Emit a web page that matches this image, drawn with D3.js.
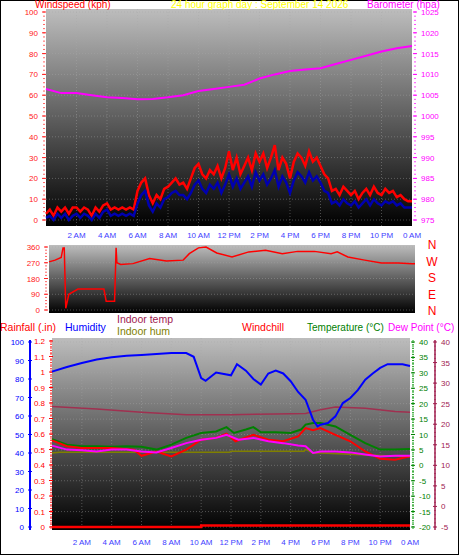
<!DOCTYPE html>
<html><head><meta charset="utf-8">
<script src="https://cdn.jsdelivr.net/npm/d3@7/dist/d3.min.js"></script>
<style>body{margin:0;background:#fff}svg{display:block;font-family:"Liberation Sans",Arial,sans-serif}</style>
</head><body><svg id="c" width="459" height="555"></svg>
<script>
const xTickLabels=["2 AM","4 AM","6 AM","8 AM","10 AM","12 PM","2 PM","4 PM","6 PM","8 PM","10 PM","0 AM"];
const xTickHours=[2,4,6,8,10,12,14,16,18,20,22,24];
// wind speed every 15 min
const gust=[3,5,2,6,4,6,3,6,6,4,6,5,2,6,4,7,8,5,6,5,6,5,6,5,14,18,20,12,8,12,10,15,16,18,20,17,18,15,20,25,27,22,20,24,22,26,20,25,33,24,30,22,26,30,24,32,28,32,25,30,36,24,30,27,20,28,32,30,26,33,28,30,26,22,20,14,15,12,16,14,12,14,10,13,15,12,16,13,12,15,13,14,11,12,10,9,9];
const avgWind=[1,2,0,3,1,3,0,2,3,1,3,2,0,3,1,4,5,2,3,2,3,2,3,2,8,12,14,7,4,8,6,10,11,13,14,12,12,10,13,17,19,15,13,17,15,18,13,17,22,16,20,15,18,21,16,23,19,22,17,20,24,16,21,18,13,19,23,21,18,23,19,21,18,14,13,8,9,7,10,8,7,9,6,8,10,7,10,8,7,9,8,9,7,8,6,6,6];
const baro=[1006.5,1005.5,1005.5,1005,1004.5,1004.3,1004,1004.1,1004.5,1005,1006,1006.5,1007,1007.5,1009,1010,1010.8,1011.2,1011.5,1012.5,1013.5,1014.5,1015.5,1016.3,1016.8];
const dirHours=[0,0.4,0.8,0.92,1.0,1.1,1.3,1.9,3.6,3.75,4.3,4.4,4.45,4.7,5.5,6.6,7.7,8.8,9.2,9.8,10.3,11,12,13.1,14.2,15.3,16.3,17.4,18.5,18.9,19.6,20.7,21.8,22.9,23.8,24];
const dirDeg=[275,285,300,355,355,10,90,120,120,50,50,355,270,260,265,294,280,285,322,355,360,326,303,332,341,322,335,335,322,332,303,285,269,269,265,265];
const humHours=[0,1,2,3,4,5,6,7,8,9,9.5,10,10.3,11,12,12.4,13,13.5,14,14.5,15,15.5,16,16.5,17,17.5,17.8,18,18.5,19,19.5,20,20.5,21,21.5,22,22.5,23,23.5,24];
const humidity=[84,86.5,88.6,90.5,91.7,92.6,93,93.5,94,94,92,80.5,79,83.5,82,88,84.5,80,77,83,84.5,83,78.8,73,68.8,58,54.4,55.3,56.2,59.8,67,69.7,74,79.6,83,86,88,88,88,87];
const tHours=[0,1,2,3,4,5,6,7,8,9,10,11,11.7,12.2,13,13.5,14,15,16,16.7,17,17.5,18,19,20,21,22,23,24];
const temperature=[8.5,6.7,6.2,6.2,6,6.2,6,5.1,6.7,8.9,10.5,11,12.4,10.5,11.6,12.4,10.7,10.7,10.5,11.6,13.2,13.7,13.7,12.6,9.9,7.2,5.1,5.1,5.3];
const wcHours=[0,1,2,4,5.5,6,7,8,9,10,11,11.7,12.3,13.5,14.5,15.5,16.5,17,17.5,18,19,20,21,22,23,24];
const windchill=[8.1,6.2,5.6,5.6,5.1,3.1,4.5,2.9,5.1,8.3,8.9,10.3,7.8,9.9,8.3,7.8,9.4,12.1,11.4,12.1,9.9,7.8,4.5,2.1,1.8,2.9];
const dpHours=[0,1,2,3,4,5,6,7,8,9,10,11,11.7,12.5,13.5,14.5,15.5,16.5,17,17.5,18,19,20,21,22,23,24];
const dewPoint=[6.4,5.1,4.9,4.5,5.1,5.1,4.5,4.2,5.6,7.2,8.3,8.9,9.9,8.3,8.9,7.8,7.2,6.4,6.2,4,4.5,4.5,4.2,3.5,2.9,3.1,3.1];
const inHours=[0,3,6,9,12,15,17,18,19,21,23,24];
const indoorTemp=[24.3,23.7,22.9,22.3,22.3,22.5,22.6,23.5,24.2,23.9,23.1,22.9];
const ihHours=[0,0.5,6,8,11.9,12,16.9,17,17.5,18,24];
const indoorHum=[40,40.4,40.4,40.4,40.4,41,41,42,40,40,38];
const rainHours=[0,9.9,10,24];
const rainfall=[0,0,0.01,0.01];

const svg=d3.select("#c");
svg.append("rect").attr("x",0.5).attr("y",0.5).attr("width",458).attr("height",554).attr("fill","#fff").attr("stroke","#000");
const defs=svg.append("defs");
const g=defs.append("linearGradient").attr("id","bg").attr("x1",0).attr("y1",0).attr("x2",0).attr("y2",1);
g.append("stop").attr("offset","0%").attr("stop-color","#bdbdbd");
g.append("stop").attr("offset","100%").attr("stop-color","#000");

function panel(x0,x1,y0,y1,nx,ny){
  svg.append("rect").attr("x",x0).attr("y",y0).attr("width",x1-x0).attr("height",y1-y0).attr("fill","url(#bg)");
  const gg=svg.append("g").attr("stroke","#aaa").attr("stroke-width",0.6).attr("stroke-dasharray","1,2").attr("opacity",0.7);
  nx.forEach(v=>gg.append("line").attr("x1",v).attr("x2",v).attr("y1",y0).attr("y2",y1));
  ny.forEach(v=>gg.append("line").attr("x1",x0).attr("x2",x1).attr("y1",v).attr("y2",v));
}
function axis(scale,x,ticks,color,side,fmt,minor){
  const a=svg.append("g").attr("font-size",8).attr("fill",color);
  ticks.forEach(t=>{
    const y=scale(t);
    a.append("text").attr("x",side<0?x-6:x+6).attr("y",y+3).attr("text-anchor",side<0?"end":"start").text(fmt?fmt(t):t);
    a.append("line").attr("x1",x-2).attr("x2",x+2).attr("y1",y).attr("y2",y).attr("stroke",color);
  });
  if(minor){const [a0,a1]=scale.domain();const st=(a1-a0)/minor;
    for(let v=a0;v<=a1+1e-9;v+=st)a.append("line").attr("x1",x-1).attr("x2",x+1).attr("y1",scale(v)).attr("y2",scale(v)).attr("stroke",color).attr("opacity",0.7);}
}
function xlabels(xs,y,color){
  const a=svg.append("g").attr("font-size",8).attr("fill",color).attr("text-anchor","middle");
  xTickHours.forEach((h,i)=>a.append("text").attr("x",xs(h)).attr("y",y).text(xTickLabels[i]));
}
function path(xs,ys,hours,vals,color,w,curve){
  svg.append("path").datum(vals.map((v,i)=>[hours[i],v])).attr("fill","none").attr("stroke",color).attr("stroke-width",w)
   .attr("d",d3.line().x(d=>xs(d[0])).y(d=>ys(d[1])).curve(curve||d3.curveLinear));
}
function txt(x,y,s,color,size,anchor){svg.append("text").attr("x",x).attr("y",y).attr("fill",color).attr("font-size",size||11).attr("text-anchor",anchor||"start").text(s);}

// ---- Top panel
const xT=d3.scaleLinear().domain([0,24]).range([46,412]);
const yW=d3.scaleLinear().domain([0,100]).range([220,12]);
const yB=d3.scaleLinear().domain([975,1025]).range([220,12]);
panel(46,412,9,226,d3.range(2,24,2).map(xT),d3.range(0,101,10).map(yW));
axis(yW,44,d3.range(0,101,10),"#ff2020",-1,null,50);
axis(yB,415,d3.range(975,1026,5),"#ff00ff",1,null,50);
const wh=gust.map((d,i)=>i*0.25);
path(xT,yW,wh,gust,"#ff0000",2.5);
path(xT,yW,wh,avgWind,"#0000b0",2.5);
path(xT,yB,d3.range(0,25),baro,"#ff00ff",2);
xlabels(xT,238,"#4040ff");
txt(35,8,"Windspeed (kph)","#ff0000",10);
txt(171,8,"24 hour graph day : September 14 2026","#ffff00",10);
txt(367,8,"Barometer (hpa)","#ff00ff",10);

// ---- Direction panel
const xD=d3.scaleLinear().domain([0,24]).range([49,415]);
const yD=d3.scaleLinear().domain([0,360]).range([310,247]);
panel(49,415,245,313,[],[0,90,180,270,360].map(yD));
axis(yD,46,[0,90,180,270,360],"#ff2020",-1,null,20);
path(xD,yD,dirHours,dirDeg,"#ff0000",1.5);
["N","W","S","E","N"].forEach((s,i)=>txt(432,249+i*16.5,s,"#ff0000",12,"middle"));

// ---- Bottom panel
const xB=d3.scaleLinear().domain([0,24]).range([52,410]);
const yH=d3.scaleLinear().domain([0,100]).range([527,342]);
const yR=d3.scaleLinear().domain([0,1.2]).range([527,341]);
const yG=d3.scaleLinear().domain([-20,40]).range([527,342]);
const yM=d3.scaleLinear().domain([-5,40]).range([527,342]);
panel(52,410,338,530,d3.range(2,24,2).map(xB),d3.range(-20,41,5).map(yG));
svg.append("line").attr("x1",30).attr("x2",30).attr("y1",340).attr("y2",530).attr("stroke","#0000ff").attr("stroke-width",2);
axis(yH,30,d3.range(0,101,10),"#0000ff",-1,null,50);
svg.append("line").attr("x1",51).attr("x2",51).attr("y1",340).attr("y2",530).attr("stroke","#ff3030").attr("stroke-dasharray","1,1");
axis(yR,51,d3.range(0,1.21,0.1).map(v=>+v.toFixed(1)),"#ff0000",-1,v=>v===0?"0":(v===1?"1":String(v)),60);
svg.append("line").attr("x1",413).attr("x2",413).attr("y1",340).attr("y2",530).attr("stroke","#00b000").attr("stroke-dasharray","1,1");
axis(yG,413,d3.range(-20,41,5),"#008000",1,null,60);
svg.append("line").attr("x1",435).attr("x2",435).attr("y1",340).attr("y2",530).attr("stroke","#a02050").attr("stroke-width",1.5);
axis(yM,435,d3.range(-5,41,5),"#a02050",1,null,45);
path(xB,yM,inHours,indoorTemp,"#a03050",1.5);
path(xB,yH,ihHours,indoorHum,"#808000",1.5);
path(xB,yG,tHours,temperature,"#008000",2);
path(xB,yG,wcHours,windchill,"#ff0000",2);
path(xB,yG,dpHours,dewPoint,"#ff00ff",2);
path(xB,yH,humHours,humidity,"#0000ff",2);
path(xB,yR,rainHours,rainfall,"#ff0000",2.5,d3.curveStepAfter);
xlabels(xB,545,"#4040ff");
txt(0,331,"Rainfall (.in)","#ff0000",10.5);
txt(65,331,"Humidity","#0000ff",10.5);
txt(117,323,"Indoor temp","#a02050",10.5);
txt(117,335,"Indoor hum","#808000",10.5);
txt(242,331,"Windchill","#ff0000",10.5);
txt(307,331,"Temperature (°C)","#008000",10);
txt(388,331,"Dew Point (°C)","#ff00ff",10);
</script></body></html>
